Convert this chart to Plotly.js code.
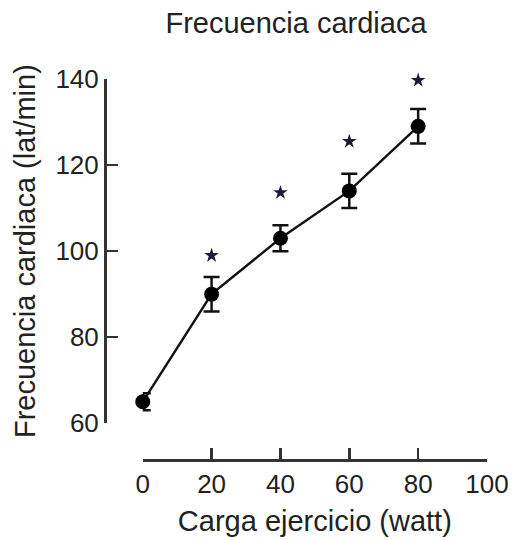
<!DOCTYPE html>
<html>
<head>
<meta charset="utf-8">
<script src="https://cdn.plot.ly/plotly-3.0.1.min.js"></script>
<style>html,body{margin:0;padding:0;background:#fff;}#chart{width:517px;height:540px;}</style>
</head>
<body>
<div id="chart"></div>
<script>
const cargaWatt = [0, 20, 40, 60, 80];
const frecuencia = [65, 90, 103, 114, 129];
const errorFrec = [2, 4, 3, 4, 4];
const starX = [20, 40, 60, 80];
const starY = [99, 113.6, 125.5, 139.7];
const xTicks = [0, 20, 40, 60, 80, 100];
const yTicks = [60, 80, 100, 120, 140];

const W = 517, H = 540;
const mL = 105, mR = 30.3, mT = 79.3, mB = 80;
const plotW = W - mL - mR, plotH = H - mT - mB;
const xDomStart = 37.7 / plotW;
const yDomStart = 36.7 / plotH;

const FONT = 'Liberation Sans, Arial, sans-serif';

const traces = [
  {
    x: cargaWatt, y: frecuencia, type: 'scatter', mode: 'lines+markers',
    line: {color: '#111', width: 2.4},
    marker: {color: '#000', size: 15, symbol: 'circle'},
    error_y: {type: 'data', array: errorFrec, visible: true, color: '#111', thickness: 2.5, width: 8},
    cliponaxis: false, hoverinfo: 'skip'
  },
  {
    x: starX, y: starY, type: 'scatter', mode: 'markers',
    marker: {color: '#1c1c38', size: 11, symbol: 'star'},
    cliponaxis: false, hoverinfo: 'skip'
  }
];

const layout = {
  width: W, height: H,
  margin: {l: mL, r: mR, t: mT, b: mB, pad: 0},
  paper_bgcolor: '#fff', plot_bgcolor: '#fff',
  showlegend: false,
  font: {family: FONT, color: '#222', size: 26},
  title: {
    text: 'Frecuencia cardiaca',
    font: {family: FONT, size: 29, color: '#222'},
    x: 0.5, xref: 'paper', xanchor: 'center',
    y: 1 - 23 / H, yref: 'container', yanchor: 'middle'
  },
  xaxis: {
    domain: [xDomStart, 1], anchor: 'free', position: 0,
    range: [0, 100], tickvals: xTicks, ticktext: xTicks.map(String),
    showline: true, linecolor: '#333', linewidth: 2.5,
    ticks: 'inside', ticklen: 11, tickwidth: 2.5, tickcolor: '#333',
    showgrid: false, zeroline: false,
    tickfont: {family: FONT, size: 26, color: '#222'},
    title: {text: 'Carga ejercicio (watt)', font: {family: FONT, size: 29, color: '#222'}, standoff: 12}
  },
  yaxis: {
    domain: [yDomStart, 1], anchor: 'free', position: 0,
    range: [60, 140], tickvals: yTicks, ticktext: yTicks.map(String),
    showline: true, linecolor: '#333', linewidth: 2.5,
    ticks: 'inside', ticklen: 11, tickwidth: 2.5, tickcolor: '#333',
    showgrid: false, zeroline: false,
    tickfont: {family: FONT, size: 26, color: '#222'},
    title: {text: 'Frecuencia cardiaca (lat/min)', font: {family: FONT, size: 29, color: '#222'}, standoff: 10}
  }
};

Plotly.newPlot('chart', traces, layout, {displayModeBar: false, staticPlot: true});
</script>
</body>
</html>
